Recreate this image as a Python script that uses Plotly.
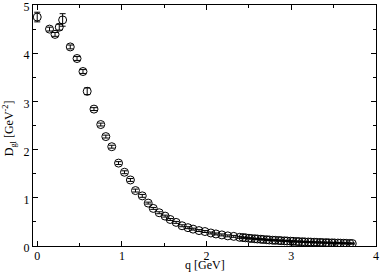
import plotly.graph_objects as go

q = [0.00, 0.145, 0.21, 0.26, 0.30, 0.39, 0.47, 0.54, 0.59, 0.67, 0.75, 0.81, 0.88,
     0.96, 1.03, 1.10, 1.16, 1.24, 1.31, 1.37, 1.44, 1.51, 1.57, 1.64, 1.71, 1.78,
     1.84, 1.91, 1.98, 2.05, 2.11, 2.18, 2.25, 2.32, 2.39,
     2.43, 2.46, 2.50, 2.53, 2.57, 2.60, 2.64, 2.67, 2.71, 2.74, 2.78, 2.81, 2.85,
     2.88, 2.92, 2.95, 2.99, 3.02, 3.06, 3.09, 3.13, 3.16, 3.20, 3.23, 3.27, 3.30,
     3.34, 3.37, 3.41, 3.44, 3.48, 3.51, 3.55, 3.58, 3.62, 3.65, 3.69, 3.72]
D = [4.75, 4.50, 4.39, 4.54, 4.69, 4.13, 3.89, 3.62, 3.21, 2.84, 2.52, 2.27, 2.06,
     1.72, 1.53, 1.37, 1.15, 1.04, 0.89, 0.78, 0.69, 0.62, 0.55, 0.49, 0.42, 0.38,
     0.35, 0.32, 0.30, 0.27, 0.25, 0.23, 0.21, 0.20, 0.18,
     0.175, 0.17, 0.16, 0.155, 0.15, 0.145, 0.14, 0.135, 0.13, 0.125, 0.12, 0.118, 0.115,
     0.11, 0.107, 0.104, 0.10, 0.097, 0.094, 0.091, 0.088, 0.085, 0.083, 0.080, 0.078, 0.075,
     0.073, 0.071, 0.069, 0.067, 0.065, 0.063, 0.061, 0.059, 0.057, 0.055, 0.053, 0.051]
err = [0.10, 0.04, 0.04, 0.06, 0.13, 0.04, 0.04, 0.04, 0.07, 0.03, 0.03, 0.03, 0.03,
       0.03, 0.03, 0.03, 0.03, 0.03, 0.02, 0.02, 0.02, 0.02, 0.02, 0.02, 0.02, 0.02,
       0.02, 0.02, 0.02, 0.02, 0.02, 0.02, 0.02, 0.02, 0.02,
       0.01, 0.01, 0.01, 0.01, 0.01, 0.01, 0.01, 0.01, 0.01, 0.01, 0.01, 0.01, 0.01,
       0.01, 0.01, 0.01, 0.01, 0.01, 0.01, 0.01, 0.01, 0.01, 0.01, 0.01, 0.01, 0.01,
       0.01, 0.01, 0.01, 0.01, 0.01, 0.01, 0.01, 0.01, 0.01, 0.01, 0.01, 0.01]

x_ticks = [0, 1, 2, 3, 4]
y_ticks = [0, 1, 2, 3, 4, 5]

font = "Liberation Serif, Times New Roman, serif"

fig = go.Figure()
fig.add_trace(go.Scatter(
    x=q, y=D, mode="markers",
    marker=dict(symbol="circle-open", size=8, color="black", line=dict(width=1, color="black")),
    error_y=dict(type="data", array=err, visible=True, color="black", thickness=1, width=3),
    showlegend=False,
))

axis_common = dict(
    showline=True, linecolor="black", linewidth=1, mirror="ticks",
    ticks="inside", ticklen=5, tickcolor="black", tickwidth=1,
    showgrid=False, zeroline=False, automargin=False,
    ticklabeloverflow="allow",
    tickfont=dict(family=font, size=12, color="black"),
)
fig.update_xaxes(range=[-0.05, 4], tickvals=x_ticks, ticklabelstandoff=-1,
                 minor=dict(dtick=0.5, ticks="inside", ticklen=3, tickcolor="black", showgrid=False),
                 **axis_common)
fig.update_yaxes(range=[0, 5], tickvals=y_ticks, ticklabelshift=2,
                 minor=dict(dtick=0.5, ticks="inside", ticklen=3, tickcolor="black", showgrid=False),
                 **axis_common)

fig.add_annotation(text="q [GeV]", x=0.5, xref="paper", y=-0.116, yref="paper",
                   yanchor="bottom", xanchor="center", showarrow=False,
                   font=dict(family=font, size=12, color="black"))
fig.add_annotation(text="D<sub>gl</sub> [GeV<sup>-2</sup>]", x=-0.066, xref="paper",
                   xanchor="center", yanchor="middle",
                   y=0.49, yref="paper", textangle=-90, showarrow=False,
                   font=dict(family=font, size=12, color="black"))

fig.update_layout(
    width=382, height=274,
    margin=dict(l=33, r=6, t=5, b=28),
    plot_bgcolor="white", paper_bgcolor="white",
)

fig.write_html("out.html", config={"displayModeBar": False},
               post_script="document.body.style.margin='0';document.body.style.padding='0';")
